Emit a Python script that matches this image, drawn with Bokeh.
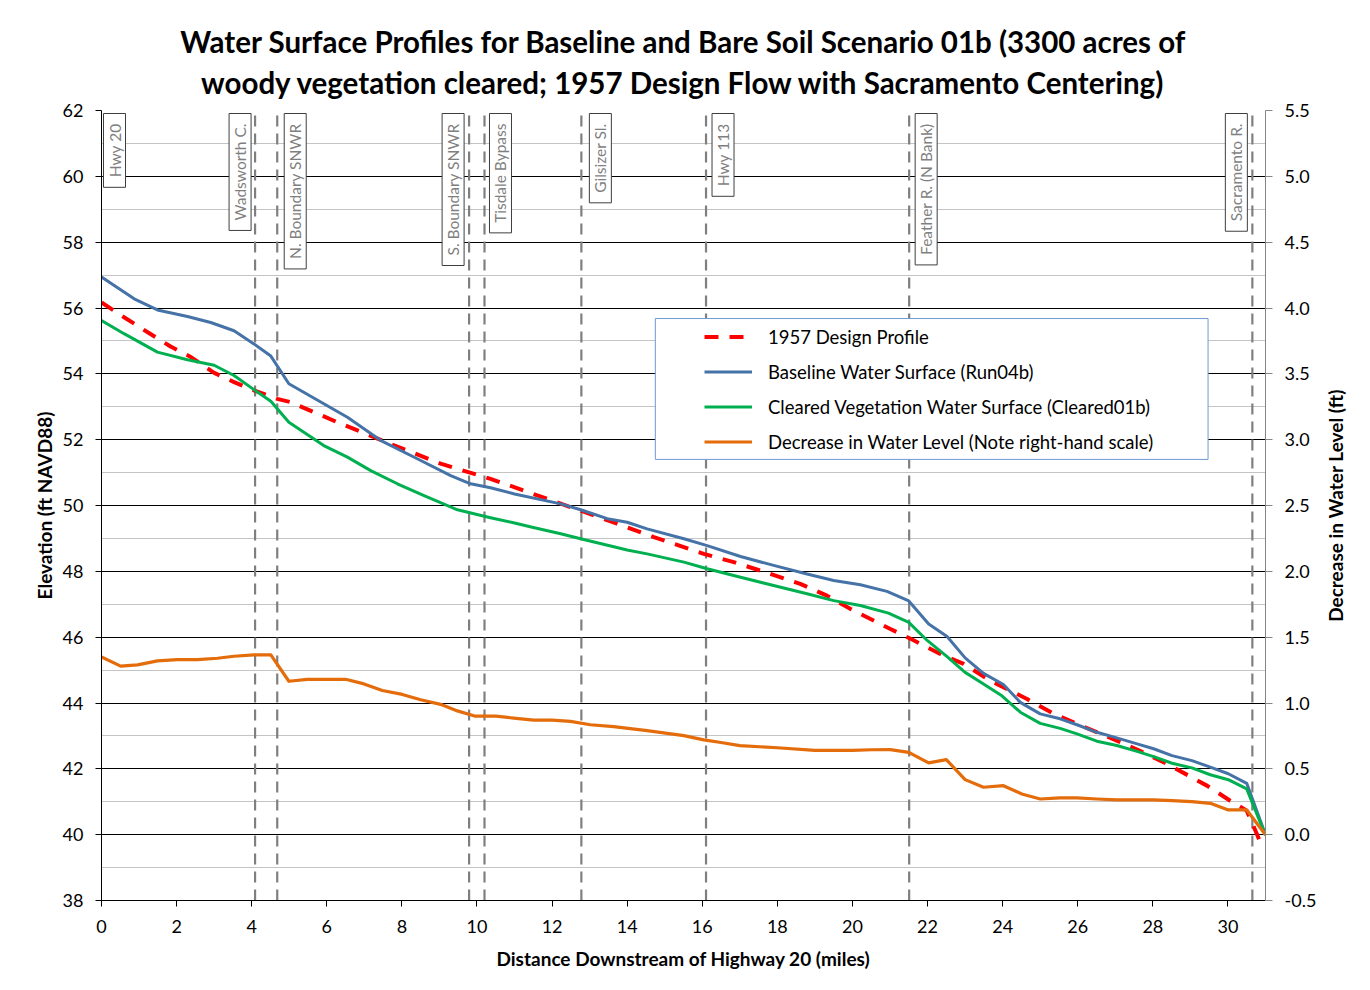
import math
from bokeh.plotting import figure
from bokeh.layouts import row
from bokeh.models import (Range1d, LinearAxis, SingleIntervalTicker, PrintfTickFormatter, FixedTicker,
                          Title, Legend, LegendItem, BoxAnnotation, ColumnDataSource)
from bokeh.core.properties import value
from bokeh.embed import file_html
from bokeh.resources import INLINE

# ---------------- data ----------------
title_lines = ["Water Surface Profiles for Baseline and Bare Soil Scenario 01b (3300 acres of",
               "woody vegetation cleared; 1957 Design Flow with Sacramento Centering)"]

design_miles = [0, 0.6, 1.22, 1.84, 2.38, 3.0, 3.53, 4.06, 4.68, 5.04, 6.28, 7.70, 9.03, 10.36, 12.0,
                13.73, 14.71, 16.04, 16.84, 17.55, 18.61, 19.32, 19.94, 21.01, 21.55, 22.34, 22.96,
                23.67, 24.65, 25.36, 25.89, 27.13, 27.84, 28.46, 29.44, 30.06, 30.50, 30.77, 30.86]
design_elev = [56.17, 55.72, 55.27, 54.83, 54.51, 54.03, 53.75, 53.50, 53.24, 53.14, 52.53, 51.87, 51.27,
               50.81, 50.15, 49.45, 49.04, 48.53, 48.28, 48.02, 47.62, 47.26, 46.86, 46.25, 45.95,
               45.49, 45.19, 44.68, 44.12, 43.67, 43.41, 42.81, 42.45, 42.10, 41.49, 41.03, 40.73,
               40.02, 39.77]

base_miles = [0, 0.87, 1.49, 2.29, 2.91, 3.53, 4.06, 4.51, 4.99, 5.92, 6.55, 7.43, 8.41, 9.30, 9.83,
              10.36, 11.0, 12.23, 12.76, 13.47, 14.00, 14.53, 15.51, 16.13, 17.02, 17.90, 18.79, 19.50,
              20.21, 20.92, 21.50, 22.03, 22.52, 23.00, 23.49, 24.02, 24.47, 25.00, 25.53, 25.98,
              26.51, 27.04, 27.58, 28.02, 28.51, 29.04, 29.53, 30.01, 30.50, 31.0]
base_elev = [56.94, 56.28, 55.94, 55.74, 55.56, 55.31, 54.91, 54.54, 53.70, 53.09, 52.68, 51.98, 51.42,
             50.91, 50.66, 50.54, 50.35, 50.05, 49.87, 49.60, 49.49, 49.29, 48.99, 48.78, 48.45, 48.18,
             47.92, 47.72, 47.59, 47.39, 47.10, 46.40, 46.02, 45.37, 44.90, 44.56, 44.02, 43.67, 43.52,
             43.34, 43.11, 42.94, 42.76, 42.61, 42.40, 42.25, 42.05, 41.85, 41.56, 40.0]

cleared_miles = [0, 0.6, 1.49, 2.29, 3.0, 3.53, 4.06, 4.51, 4.99, 5.92, 6.55, 7.17, 7.88, 8.59, 9.48,
                 10.36, 11.0, 11.5, 12.23, 12.76, 14.00, 14.53, 15.51, 16.13, 17.02, 17.90, 18.79, 19.50,
                 20.21, 20.96, 21.50, 21.99, 22.52, 23.00, 23.49, 23.98, 24.47, 25.00, 25.53, 25.98,
                 26.51, 27.04, 27.58, 28.02, 28.51, 29.04, 29.53, 30.01, 30.50, 31.0]
cleared_elev = [55.62, 55.22, 54.66, 54.43, 54.26, 53.95, 53.52, 53.17, 52.53, 51.82, 51.47, 51.06, 50.66,
                50.30, 49.87, 49.63, 49.47, 49.33, 49.14, 48.99, 48.65, 48.53, 48.28, 48.08, 47.82, 47.57,
                47.32, 47.11, 46.96, 46.73, 46.45, 45.90, 45.41, 44.93, 44.58, 44.22, 43.72, 43.38, 43.23,
                43.06, 42.84, 42.71, 42.53, 42.37, 42.17, 42.03, 41.82, 41.67, 41.39, 39.98]

decrease_miles = [0, 0.51, 0.96, 1.49, 2.02, 2.56, 3.09, 3.53, 4.06, 4.51, 4.99, 5.48, 6.02, 6.50, 6.99,
                  7.48, 8.01, 8.50, 9.03, 9.48, 9.96, 10.50, 10.98, 11.51, 12.00, 12.49, 13.02, 13.64,
                  14.53, 15.51, 16.04, 16.5, 17.0, 18.0, 19.0, 20.0, 20.5, 21.01, 21.50, 22.03, 22.50,
                  23.00, 23.49, 24.02, 24.51, 25.00, 25.53, 25.98, 26.51, 27.04, 27.58, 28.02, 28.51,
                  29.04, 29.53, 30.01, 30.50, 31.0]
decrease_ft = [1.35, 1.28, 1.29, 1.32, 1.33, 1.33, 1.34, 1.355, 1.365, 1.365, 1.165, 1.18, 1.18, 1.18,
               1.145, 1.095, 1.065, 1.025, 0.99, 0.94, 0.90, 0.90, 0.885, 0.87, 0.87, 0.86, 0.835, 0.82,
               0.79, 0.752, 0.72, 0.70, 0.676, 0.66, 0.64, 0.64, 0.645, 0.646, 0.625, 0.545, 0.57,
               0.418, 0.36, 0.372, 0.309, 0.271, 0.279, 0.279, 0.271, 0.264, 0.264, 0.264, 0.258,
               0.251, 0.238, 0.188, 0.188, 0.0]

marker_names = ["Hwy 20", "Wadsworth C.", "N. Boundary SNWR", "S. Boundary SNWR", "Tisdale Bypass",
                "Gilsizer Sl.", "Hwy 113", "Feather R. (N Bank)", "Sacramento R."]
marker_miles = [0.0, 4.09, 4.68, 9.79, 10.20, 12.78, 16.10, 21.51, 30.65]

legend_labels = ["1957 Design Profile", "Baseline Water Surface (Run04b)",
                 "Cleared Vegetation Water Surface (Cleared01b)",
                 "Decrease in Water Level (Note right-hand scale)"]
right_axis_title = "Decrease in Water Level (ft)"

# ---------------- styling ----------------
FONT = "Lato"
label_offsets_px = [13, -15, 18, -16, 16, 19, 17, 17, -16]

p = figure(width=1319, height=988, output_backend="svg", toolbar_location=None,
           x_range=Range1d(0, 31), y_range=Range1d(38, 62),
           min_border_left=101, min_border_right=54, min_border_top=110, min_border_bottom=88)
p.outline_line_color = None
p.background_fill_color = "white"
p.border_fill_color = "white"
p.extra_y_ranges = {"dec": Range1d(-0.5, 5.5)}

xt = SingleIntervalTicker(interval=2, num_minor_ticks=0)
yt = SingleIntervalTicker(interval=2, num_minor_ticks=2)
p.xaxis.ticker = xt
p.yaxis.ticker = yt
p.xgrid.grid_line_color = None
p.ygrid.ticker = yt
p.ygrid.grid_line_color = "#000000"
p.ygrid.grid_line_width = 1
p.ygrid.minor_grid_line_color = "#c4c4c4"
p.ygrid.minor_grid_line_width = 1

for ax in (p.xaxis[0], p.yaxis[0]):
    ax.axis_line_color = "black"
    ax.major_tick_line_color = "black"
    ax.minor_tick_line_color = None
    ax.major_tick_out = 6
    ax.major_tick_in = 0
    ax.major_label_text_font = FONT
    ax.major_label_text_font_size = "18px"
    ax.major_label_text_color = "black"
    ax.axis_label_text_font = FONT
    ax.axis_label_text_font_size = "19px"
    ax.axis_label_text_font_style = "bold"
    ax.axis_label_text_color = "black"

p.xaxis.axis_label = "Distance Downstream of Highway 20 (miles)"
p.xaxis.major_label_standoff = 13
p.xaxis.axis_label_standoff = 11
p.yaxis.axis_label = "Elevation (ft NAVD88)"
p.yaxis.major_label_standoff = 12
p.yaxis.axis_label_standoff = 4

rax = LinearAxis(y_range_name="dec", ticker=SingleIntervalTicker(interval=0.5, num_minor_ticks=0),
                 formatter=PrintfTickFormatter(format="%.1f"))
rax.axis_line_color = "#868686"
rax.major_tick_line_color = "#868686"
rax.minor_tick_line_color = None
rax.major_tick_out = 7
rax.major_tick_in = 0
rax.major_label_standoff = 12
rax.major_label_text_font = FONT
rax.major_label_text_font_size = "18px"
rax.major_label_text_color = "black"
p.add_layout(rax, "right")

# titles (second line added first so it sits closest to the plot)
p.add_layout(Title(text=title_lines[1], align="center", text_font=FONT, text_font_size="29.5px",
                   text_font_style="bold", text_color="black", standoff=22, text_line_height=1.1),
             "above")
p.add_layout(Title(text=title_lines[0], align="center", text_font=FONT, text_font_size="29.5px",
                   text_font_style="bold", text_color="black", standoff=-14, text_line_height=1.1),
             "above")

# vertical dashed reference lines (not for Hwy 20 at the axis)
ytop = p.y_range.end
ybot = p.y_range.start
p.segment(x0=marker_miles[1:], x1=marker_miles[1:], y0=[ybot] * (len(marker_miles) - 1),
          y1=[ytop] * (len(marker_miles) - 1), line_color="#7f7f7f", line_width=2.2, line_dash="11 7")

# marker labels
msrc = ColumnDataSource(dict(x=marker_miles, y=[ytop] * len(marker_miles), text=marker_names,
                             xoff=label_offsets_px))
p.text(x="x", y="y", text="text", source=msrc, angle=math.pi / 2, text_align="right",
       text_baseline="middle", x_offset="xoff", y_offset=3, text_font=value(FONT),
       text_font_size="15.5px", text_color="#7f7f7f", background_fill_color="white",
       border_line_color="#3f3f3f", border_line_width=1, padding=(10, 2))

# series
r_design = p.line(design_miles, design_elev, line_color="#ff0000", line_width=4, line_dash="14 11")
r_base = p.line(base_miles, base_elev, line_color="#4572a7", line_width=3, line_join="round")
r_clear = p.line(cleared_miles, cleared_elev, line_color="#00b050", line_width=3, line_join="round")
r_dec = p.line(decrease_miles, decrease_ft, y_range_name="dec", line_color="#e46c0a", line_width=3.2,
               line_join="round")

# legend box + legend
box = BoxAnnotation(left=14.75, right=29.47, bottom=51.40, top=55.68, fill_color="white",
                    fill_alpha=1.0, line_color="#6f9bd1", line_width=1, line_alpha=1.0)
p.add_layout(box)
legend = Legend(items=[LegendItem(label=legend_labels[i], renderers=[r])
                       for i, r in enumerate([r_design, r_base, r_clear, r_dec])],
                location=(603, 441), padding=0, spacing=0, margin=0, glyph_width=48, glyph_height=35,
                label_height=35, label_standoff=16, label_text_font=FONT, label_text_font_size="18.5px",
                label_text_color="black", border_line_alpha=0, background_fill_alpha=0)
p.add_layout(legend)

# narrow companion figure that carries the right-hand axis title (reads bottom-to-top)
q = figure(width=43, height=988, output_backend="svg", toolbar_location=None,
           x_range=Range1d(0, 1), y_range=Range1d(-0.5, 5.5),
           min_border_left=27, min_border_right=0, min_border_top=110, min_border_bottom=88)
q.outline_line_color = None
q.background_fill_color = "white"
q.border_fill_color = "white"
q.xaxis.visible = False
q.grid.visible = False
q.yaxis.ticker = FixedTicker(ticks=[])
q.yaxis.axis_line_color = None
q.yaxis.major_tick_line_color = None
q.yaxis.minor_tick_line_color = None
q.yaxis.major_tick_out = 0
q.yaxis.major_label_standoff = 0
q.yaxis.axis_label = right_axis_title
q.yaxis.axis_label_standoff = 0
q.yaxis.axis_label_text_font = FONT
q.yaxis.axis_label_text_font_size = "19px"
q.yaxis.axis_label_text_font_style = "bold"
q.yaxis.axis_label_text_color = "black"

layout = row(p, q, spacing=0)
open("out.html", "w").write(file_html(layout, INLINE))
